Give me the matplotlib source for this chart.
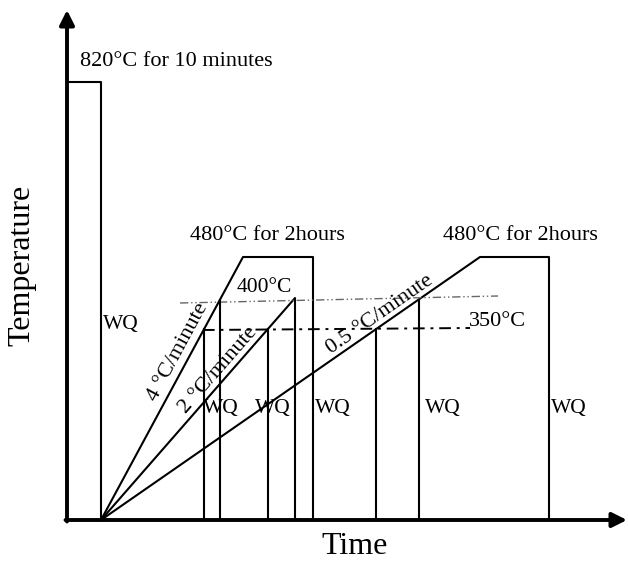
import numpy as np
import matplotlib
matplotlib.use("Agg")
import matplotlib.pyplot as plt

plt.rcParams['font.family'] = ['Liberation Serif', 'DejaVu Serif']

# Schematic levels (vertical position units) and times (horizontal units)
level_names = ["820°C", "480°C", "400°C", "350°C"]
level_820 = 438
level_480 = 263
level_400 = [217, 224]          # slightly tilted guide line (left, right)
level_400_x = [113, 431]
level_350 = [190, 192]
level_350_x = [136, 403]
peak_2C = 222

solution_end = 34               # end of 820°C hold / start of ramps
ramp4_top = 176                 # 4 °C/min reaches 480°C
ramp4_end = 246                 # end of 2 h hold
ramp2_top = 228                 # 2 °C/min reaches 400°C
ramp05_top = 413                # 0.5 °C/min reaches 480°C
ramp05_end = 482                # end of 2 h hold

ramp_labels = ["4 °C/minute", "2 °C/minute", "0.5 °C/minute"]
wq_label_x = [36, 136, 188, 248, 358, 484]
wq_label_y = [195, 112, 112, 112, 112, 112]

fig = plt.figure(figsize=(6.28, 5.64), dpi=100)
ax = fig.add_axes([0, 0, 1, 1])
ax.set_xlim(-67, 561)
ax.set_ylim(-44, 520)
ax.axis('off')

lw = 1.5
k = 'black'

# axes arrows
ax.annotate('', xy=(0, 510), xytext=(0, -1.5),
            arrowprops=dict(arrowstyle='-|>', lw=2.8, color=k, mutation_scale=22, shrinkA=0, shrinkB=0))
ax.annotate('', xy=(560, 0), xytext=(-1.5, 0),
            arrowprops=dict(arrowstyle='-|>', lw=2.8, color=k, mutation_scale=22, shrinkA=0, shrinkB=0))

# solution treatment box
ax.plot([0, solution_end, solution_end], [level_820, level_820, 0], color=k, lw=lw)

# ramps
ramp4 = ([solution_end, ramp4_top, ramp4_end, ramp4_end], [0, level_480, level_480, 0])
ramp2 = ([solution_end, ramp2_top, ramp2_top], [0, peak_2C, 0])
ramp05 = ([solution_end, ramp05_top, ramp05_end, ramp05_end], [0, level_480, level_480, 0])
for xs, ys in (ramp4, ramp2, ramp05):
    ax.plot(xs, ys, color=k, lw=lw)

# guide lines
ax.plot(level_400_x, level_400, color='#666666', lw=1.0, linestyle=(0, (6, 2, 1, 2, 1, 2)))
ax.plot(level_350_x, level_350, color=k, lw=1.4, linestyle=(0, (6, 3, 1.5, 3)))

# water-quench verticals where ramps cross the 350 / 400 levels
def cross(x0, x1, y1, y):
    return x0 + (x1 - x0) * y / y1

q_levels = [(ramp4_top, level_480), (ramp2_top, peak_2C), (ramp05_top, level_480)]
q350 = np.mean(level_350)
q400 = np.mean(level_400)
for xt, yt in q_levels:
    x = cross(solution_end, xt, yt, q350)
    ax.plot([x, x], [q350, 0], color=k, lw=lw)
for xt, yt in (q_levels[0], q_levels[2]):
    x = cross(solution_end, xt, yt, q400)
    ax.plot([x, x], [q400, 0], color=k, lw=lw)

# texts
ax.text(13, 458, "820°C for 10 minutes", fontsize=16, ha='left', va='center')
ax.text(200, 284, "480°C for 2hours", fontsize=16, ha='center', va='center')
ax.text(453, 284, "480°C for 2hours", fontsize=16, ha='center', va='center')
ax.text(197, 233, "400°C", fontsize=15.5, ha='center', va='center')
ax.text(431, 198, "350°C", fontsize=16, ha='center', va='center')

ang = lambda xt, yt: np.degrees(np.arctan2(yt, xt - solution_end))
ax.text(111, 168, ramp_labels[0], fontsize=16, rotation=ang(ramp4_top, level_480),
        ha='center', va='center', rotation_mode='anchor')
ax.text(151, 150, ramp_labels[1], fontsize=16, rotation=ang(ramp2_top, peak_2C),
        ha='center', va='center', rotation_mode='anchor')
ax.text(313, 205, ramp_labels[2], fontsize=16, rotation=ang(ramp05_top, level_480),
        ha='center', va='center', rotation_mode='anchor')

for x, y in zip(wq_label_x, wq_label_y):
    ax.text(x, y, "WQ", fontsize=15.5, ha='left', va='center')

ax.text(-45, 255, "Temperature", fontsize=23, rotation=90, ha='center', va='center')
ax.text(288, -26, "Time", fontsize=23, ha='center', va='center')

fig.savefig("out.png", dpi=100)
